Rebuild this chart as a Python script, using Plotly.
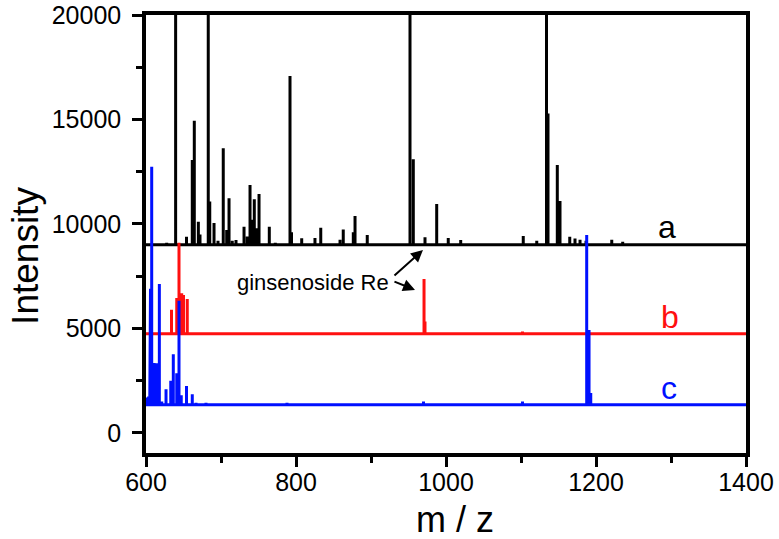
import plotly.graph_objects as go

# ---------------- data ----------------
x_range = [600, 1400]

# spectrum a (black), baseline and peak tops
a_base = 9000
a_mz = [627.6, 639.5, 654, 661.7, 664.4, 669.8, 672, 683, 685, 690.7, 696, 703, 707.6, 710.7,
        715, 720, 730.7, 735, 738.7, 741, 744.4, 747, 750.7, 764.4, 772.4, 780, 792, 794,
        807.6, 825.3, 833, 858.7, 863, 876.4, 878.7, 895, 916, 930, 952, 956.4, 972, 987.6,
        1003, 1019.6, 1103, 1121, 1134, 1136, 1148.4, 1152, 1165, 1172, 1178.7, 1186.7,
        1221, 1235.6, 1246, 1282, 1322]
a_int = [9100, 30000, 9390, 13060, 14940, 10110, 9500, 30000, 11070, 10050, 9200, 13620, 9710, 11230,
         9200, 9230, 9870, 9400, 11870, 10200, 11180, 9800, 11440, 9870, 9100, 9050, 17080, 9600,
         9320, 9330, 9820, 9250, 9740, 9600, 10380, 9470, 9080, 9050, 30000, 13100, 9360, 10960,
         9330, 9230, 9430, 9200, 30000, 15290, 12820, 11100, 9390, 9300, 9250, 9200,
         9250, 9150, 9060, 9060, 9060]

# spectrum b (red)
b_base = 4750
b_mz = [634, 641, 644, 647.6, 650, 655, 970.7, 972, 1102]
b_int = [5890, 6460, 9100, 6680, 6600, 6410, 7370, 5330, 4850]

# spectrum c (blue)
c_base = 1350
c_mz = [602, 603.5, 605, 606, 607.6, 610.7, 612.5, 614, 617.8, 621, 626.7, 633, 636.4, 641,
        644, 647, 654, 661.7, 666.7, 680, 788, 970, 1102, 1187.6, 1190.7, 1193]
c_int = [1700, 1740, 3350, 6900, 12740, 3350, 3300, 3330, 7130, 1500, 2090, 2500, 3770, 2860,
         6320, 1800, 2250, 1850, 1450, 1450, 1450, 1500, 1500, 9475, 4930, 1910]

series_labels = ["a", "b", "c"]
x_ticks = [600, 800, 1000, 1200, 1400]
x_ticktext = ["600", "800", "1000", "1200", "1400"]
y_ticks = [0, 5000, 10000, 15000, 20000]
y_ticktext = ["0", "5000", "10000", "15000", "20000"]


def stick_path(mz, inten, base):
    xs, ys = [x_range[0]], [base]
    for m, h in sorted(zip(mz, inten)):
        xs += [m, m, m]
        ys += [base, h, base]
    xs.append(x_range[1])
    ys.append(base)
    return xs, ys


FONT = "Liberation Sans, Arial, sans-serif"
RED = "#ff1010"
BLUE = "#0010ff"

fig = go.Figure()
for mz, inten, base, col, w in [(a_mz, a_int, a_base, "black", 3),
                                (b_mz, b_int, b_base, RED, 3),
                                (c_mz, c_int, c_base, BLUE, 3)]:
    xs, ys = stick_path(mz, inten, base)
    fig.add_trace(go.Scatter(x=xs, y=ys, mode="lines",
                             line=dict(color=col, width=w), showlegend=False,
                             hoverinfo="skip"))

axis_common = dict(showline=True, linewidth=3.5, linecolor="black", mirror=True,
                   ticks="outside", ticklen=10, tickwidth=3, tickcolor="black",
                   showgrid=False, zeroline=False, automargin=False,
                   ticklabeloverflow="allow",
                   tickfont=dict(family=FONT, size=25, color="black"))

fig.update_xaxes(range=x_range, tickvals=x_ticks, ticktext=x_ticktext,
                 ticklabelstandoff=-6,
                 minor=dict(dtick=100, tick0=600, ticks="outside", ticklen=6,
                            tickwidth=3, tickcolor="black"),
                 **axis_common)
fig.update_yaxes(range=[-960, 20000], tickvals=y_ticks, ticktext=y_ticktext,
                 ticklabelstandoff=6,
                 minor=dict(dtick=2500, tick0=0, ticks="outside", ticklen=6,
                            tickwidth=3, tickcolor="black"),
                 **axis_common)

ann = []
# axis titles
ann.append(dict(text="Intensity", xref="paper", yref="paper", x=-0.2, y=0.45,
                xanchor="center", yanchor="middle",
                textangle=-90, showarrow=False, font=dict(family=FONT, size=37, color="black")))
ann.append(dict(text="m / z", xref="paper", yref="paper", x=0.515, y=-0.152,
                xanchor="center", yanchor="middle",
                showarrow=False, font=dict(family=FONT, size=36, color="black")))
# series labels
for lab, xv, yv, col in zip(series_labels, [1295, 1299, 1297], [9850, 5550, 2150],
                            ["black", RED, BLUE]):
    ann.append(dict(text=lab, x=xv, y=yv, showarrow=False,
                    font=dict(family=FONT, size=32, color=col)))
# ginsenoside label + arrows
ann.append(dict(text="ginsenoside Re", x=823, y=7180, showarrow=False,
                font=dict(family=FONT, size=22, color="black")))
ann.append(dict(text="", x=969.3, y=8757, ax=929.3, ay=7465, axref="x", ayref="y",
                showarrow=True, arrowhead=2, arrowsize=1.2, arrowwidth=2, arrowcolor="black"))
ann.append(dict(text="", x=958.7, y=6843, ax=929.3, ay=7273, axref="x", ayref="y",
                showarrow=True, arrowhead=2, arrowsize=1.2, arrowwidth=2, arrowcolor="black"))

fig.update_layout(width=779, height=539, plot_bgcolor="white", paper_bgcolor="white",
                  margin=dict(l=146, r=33, t=15, b=86), annotations=ann,
                  font=dict(family=FONT))

# remove the default 8px page margin so the figure fills the window exactly
fig.write_html("out.html", config={"displayModeBar": False},
               post_script="document.body.style.margin='0';"
                           "document.documentElement.style.overflow='hidden';")
